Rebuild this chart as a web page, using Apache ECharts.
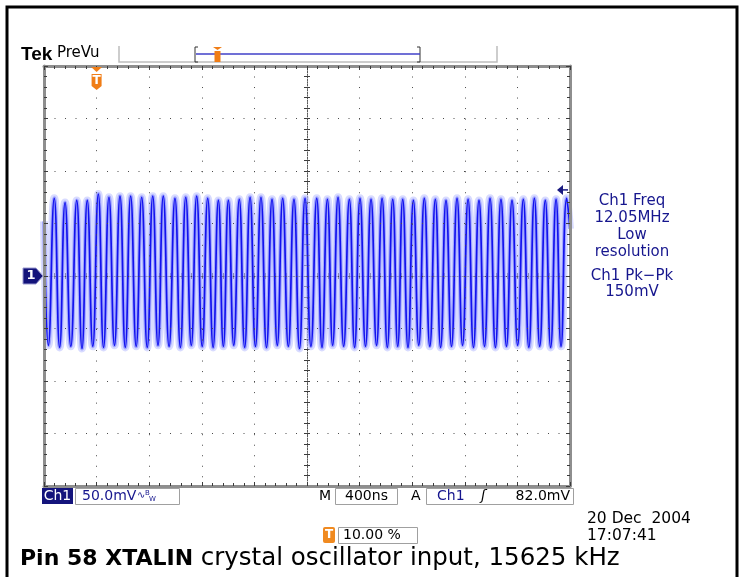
<!DOCTYPE html>
<html><head><meta charset="utf-8">
<script src="https://cdn.jsdelivr.net/npm/echarts@6/dist/echarts.min.js"></script>
<style>html,body{margin:0;padding:0;background:#fff}#c{width:742px;height:577px}</style>
</head><body><div id="c"></div><script>
// ---- Data (time in ns from left edge, voltage in mV) ----
const peakTimes = [78,160,249,329,413,494,578,659,743,827,907,996,1078,1161,1245,1326,
  1402,1485,1567,1650,1734,1815,1901,1985,2074,2155,2236,2322,2403,2487,2571,2652,
  2728,2809,2892,2976,3057,3141,3225,3308,3392,3475,3559,3645,3729,3812,3894,3975];
const peakValues = [74,70,72,72,78,75,76,76,75,76,76,74,75,76,74,72,
  72,73,75,75,73,74,73,74,74,73,75,73,74,73,74,73,
  73,72,74,73,72,74,73,72,74,73,72,73,74,72,73,74];
const troughTimes = [33,119,204,289,371,453,536,618,701,785,867,951,1037,1120,1203,1286,
  1364,1443,1526,1608,1692,1774,1858,1943,2030,2114,2195,2279,2362,2445,2529,2611,
  2690,2768,2850,2934,3016,3099,3183,3266,3350,3433,3517,3602,3687,3770,3853,3932];
const troughValues = [-66,-68,-67,-69,-67,-68,-66,-68,-67,-68,-66,-67,-68,-66,-67,-68,
  -67,-66,-68,-67,-68,-66,-67,-69,-67,-68,-66,-67,-68,-67,-66,-68,
  -67,-68,-66,-67,-68,-67,-66,-68,-67,-68,-67,-66,-68,-67,-68,-67];
const edgeTimes = [0, 4000];
const edgeValues = [52, 45];
const triggerTime = 400;      // 10.00 % of record
const triggerLevel = 82;      // mV
const timeRange = [0, 4000];  // 400 ns/div x 10
const voltRange = [-200, 200];// 50 mV/div x 8
const readoutLines = ['Ch1 Freq', '12.05MHz', 'Low', 'resolution', 'Ch1 Pk\u2212Pk', '150mV'];
const statusTexts = { ch: 'Ch1', scale: '50.0mV', time: '400ns', trig: '82.0mV', pos: '10.00 %',
  date: '20 Dec  2004', clock: '17:07:41' };
const captionBold = 'Pin 58 XTALIN';
const captionRest = ' crystal oscillator input, 15625 kHz';

// ---- build trace ----
const pts = [];
edgeTimes.forEach((t, i) => pts.push([t, edgeValues[i]]));
peakTimes.forEach((t, i) => pts.push([t, peakValues[i]]));
troughTimes.forEach((t, i) => pts.push([t, troughValues[i]]));
pts.sort((a, b) => a[0] - b[0]);

const FRAME = '#8e8e8e', TICK = '#3c3c3c', DOT = '#4a4a4a', NAVY = '#16168e';
const F = "'DejaVu Sans', sans-serif";

function borderX(pos, split) {
  return { type: 'value', position: pos, min: timeRange[0], max: timeRange[1], interval: 400, z: 10,
    axisLine: { show: true, onZero: false, lineStyle: { color: FRAME, width: 3 } },
    axisTick: { show: true, inside: true, length: 4, lineStyle: { color: TICK } },
    minorTick: { show: true, splitNumber: 5, length: 3, lineStyle: { color: TICK } },
    axisLabel: { show: false },
    splitLine: split ? { show: true, lineStyle: { color: DOT, width: 1, type: [1, 9.52] } } : { show: false } };
}
function borderY(pos, split) {
  return { type: 'value', position: pos, min: voltRange[0], max: voltRange[1], interval: 50, z: 10,
    axisLine: { show: true, onZero: false, lineStyle: { color: FRAME, width: 3 } },
    axisTick: { show: true, inside: true, length: 4, lineStyle: { color: TICK } },
    minorTick: { show: true, splitNumber: 5, length: 3, lineStyle: { color: TICK } },
    axisLabel: { show: false },
    splitLine: split ? { show: true, lineStyle: { color: DOT, width: 1, type: [1, 9.5] } } : { show: false } };
}
function centerX(pos) {
  return { type: 'value', position: pos, min: timeRange[0], max: timeRange[1], interval: 400,
    axisLine: { show: true, onZero: true, onZeroAxisIndex: 0, lineStyle: { color: '#555', width: 1, type: [1, 1.6] } },
    axisTick: { show: true, inside: true, length: 3, lineStyle: { color: TICK } },
    minorTick: { show: true, splitNumber: 5, length: 3, lineStyle: { color: TICK } },
    axisLabel: { show: false }, splitLine: { show: false } };
}
function centerY(pos) {
  return { type: 'value', position: pos, min: voltRange[0], max: voltRange[1], interval: 50,
    axisLine: { show: true, onZero: true, onZeroAxisIndex: 4, lineStyle: { color: '#555', width: 1, type: [1, 1.6] } },
    axisTick: { show: true, inside: true, length: 3, lineStyle: { color: TICK } },
    minorTick: { show: true, splitNumber: 5, length: 3, lineStyle: { color: TICK } },
    axisLabel: { show: false }, splitLine: { show: false } };
}
const helperX = { type: 'value', position: 'top', min: -2000, max: 2000,
  axisLine: { show: false, onZero: false }, axisTick: { show: false }, axisLabel: { show: false }, splitLine: { show: false } };

const traceBase = { type: 'line', xAxisIndex: 0, yAxisIndex: 0, data: pts, smooth: 0.5,
  showSymbol: false, symbol: 'none', silent: true, animation: false, z: 2 };

const chart = echarts.init(document.getElementById('c'), null, { renderer: 'canvas' });
chart.setOption({
  animation: false,
  backgroundColor: '#fff',
  grid: { left: 44, top: 66, width: 526, height: 420, containLabel: false },
  xAxis: [borderX('bottom', true), borderX('top', false), centerX('bottom'), centerX('top'), helperX],
  yAxis: [borderY('left', true), borderY('right', false), centerY('left'), centerY('right')],
  series: [
    Object.assign({}, traceBase, { lineStyle: { width: 8, color: 'rgba(190,195,255,0.6)' }, zlevel: 0 }),
    Object.assign({}, traceBase, { lineStyle: { width: 4, color: 'rgba(120,125,255,0.55)' } }),
    Object.assign({}, traceBase, { lineStyle: { width: 1.7, color: '#1212ee' } })
  ]
});

const trig = chart.convertToPixel({ xAxisIndex: 0, yAxisIndex: 0 }, [triggerTime, triggerLevel]);
const zero = chart.convertToPixel({ xAxisIndex: 0, yAxisIndex: 0 }, [timeRange[0], 0]);
const right = chart.convertToPixel({ xAxisIndex: 0, yAxisIndex: 0 }, [timeRange[1], 0]);
const gTop = chart.convertToPixel({ yAxisIndex: 0 }, voltRange[1]);

function txt(x, y, text, opt) {
  opt = opt || {};
  return { type: 'text', x: x, y: y, z: 100, silent: true,
    style: { text: text, fill: opt.fill || '#000', font: opt.font || ('14px ' + F),
      align: opt.align || 'left', textAlign: opt.align || 'left',
      verticalAlign: 'middle', textVerticalAlign: 'middle' } };
}
function tShield(cx, top, w, h) {
  return [
    { type: 'polygon', z: 100, silent: true, shape: { points: [[cx - w / 2, top], [cx + w / 2, top], [cx + w / 2, top + h - 4], [cx, top + h], [cx - w / 2, top + h - 4]] },
      style: { fill: '#f07d16' } },
    txt(cx, top + h / 2 - 1, 'T', { fill: '#fff', font: 'bold ' + (h - 4) + 'px ' + F, align: 'center' })
  ];
}

const g = [];
g.push({ type: 'rect', z: 100, silent: true, shape: { x: 7, y: 7, width: 730, height: 600 }, style: { fill: 'none', stroke: '#000', lineWidth: 3 } });
g.push(txt(21, 55, 'Tek', { font: 'bold 19px "Liberation Sans", sans-serif' }));
g.push(txt(57, 53, 'PreVu', { font: '15px ' + F }));
g.push({ type: 'polyline', z: 100, silent: true, shape: { points: [[119, 46], [119, 62], [497, 62], [497, 46]] }, style: { stroke: '#bdbdbd', lineWidth: 1.5, fill: 'none' } });
g.push({ type: 'polyline', z: 100, silent: true, shape: { points: [[198, 47], [195, 47], [195, 62], [198, 62]] }, style: { stroke: '#333', lineWidth: 1, fill: 'none' } });
g.push({ type: 'polyline', z: 100, silent: true, shape: { points: [[417, 47], [420, 47], [420, 62], [417, 62]] }, style: { stroke: '#333', lineWidth: 1, fill: 'none' } });
g.push({ type: 'line', z: 100, silent: true, shape: { x1: 196, y1: 54, x2: 420, y2: 54 }, style: { stroke: '#4040c8', lineWidth: 1.5 } });
g.push({ type: 'polygon', z: 101, silent: true, shape: { points: [[213, 47], [222, 47], [217.5, 50]] }, style: { fill: '#f07d16' } });
g.push({ type: 'rect', z: 101, silent: true, shape: { x: 214.5, y: 51, width: 6, height: 11 }, style: { fill: '#f07d16' } });
g.push(txt(217.5, 56, 'T', { fill: '#fff', font: 'bold 9px ' + F, align: 'center' }));
g.push({ type: 'polygon', z: 100, silent: true, shape: { points: [[trig[0] - 5.5, gTop + 1], [trig[0] + 5.5, gTop + 1], [trig[0], gTop + 6]] }, style: { fill: '#f07d16' } });
tShield(trig[0], gTop + 8, 10, 16).forEach(e => g.push(e));
g.push({ type: 'polygon', z: 100, silent: true, shape: { points: [[right[0] - 13, trig[1]], [right[0] - 7, trig[1] - 5], [right[0] - 7, trig[1] + 5]] }, style: { fill: '#1a1a80' } });
g.push({ type: 'line', z: 100, silent: true, shape: { x1: right[0] - 8, y1: trig[1], x2: right[0] - 2, y2: trig[1] }, style: { stroke: '#1a1a80', lineWidth: 1.5 } });
g.push({ type: 'polygon', z: 100, silent: true, shape: { points: [[23, zero[1] - 8], [36, zero[1] - 8], [43, zero[1]], [36, zero[1] + 8], [23, zero[1] + 8]] }, style: { fill: '#13137a', stroke: '#9a9ad0', lineWidth: 1 } });
g.push(txt(31, zero[1], '1', { fill: '#fff', font: 'bold 13px ' + F, align: 'center' }));
const readY = [201, 218, 235, 252, 276, 292.5];
readoutLines.forEach((s, i) => g.push(txt(632, readY[i], s, { fill: NAVY, font: '15px ' + F, align: 'center' })));
g.push({ type: 'rect', z: 100, silent: true, shape: { x: 42, y: 488, width: 31, height: 16 }, style: { fill: '#14147c' } });
g.push(txt(57.5, 496, statusTexts.ch, { fill: '#fff', font: '14px ' + F, align: 'center' }));
g.push({ type: 'rect', z: 100, silent: true, shape: { x: 75.5, y: 488.5, width: 104, height: 16 }, style: { fill: '#fff', stroke: '#a0a0a0', lineWidth: 1 } });
g.push(txt(82, 496.5, statusTexts.scale, { fill: NAVY, font: '14px ' + F }));
g.push(txt(137, 495, '\u223F', { fill: NAVY, font: '10px ' + F }));
g.push(txt(145, 493, 'B', { fill: NAVY, font: '7px ' + F }));
g.push(txt(149, 499, 'W', { fill: NAVY, font: '7px ' + F }));
g.push(txt(319, 496.5, 'M', { font: '14px ' + F }));
g.push({ type: 'rect', z: 100, silent: true, shape: { x: 335.5, y: 488.5, width: 62, height: 16 }, style: { fill: '#fff', stroke: '#a0a0a0', lineWidth: 1 } });
g.push(txt(366.5, 496.5, statusTexts.time, { font: '14px ' + F, align: 'center' }));
g.push(txt(411, 496.5, 'A', { font: '14px ' + F }));
g.push({ type: 'rect', z: 100, silent: true, shape: { x: 426.5, y: 488.5, width: 147, height: 16 }, style: { fill: '#fff', stroke: '#a0a0a0', lineWidth: 1 } });
g.push(txt(437, 496.5, statusTexts.ch, { fill: NAVY, font: '14px ' + F }));
g.push(txt(481, 496.5, '\u0283', { font: 'italic 14px ' + F }));
g.push(txt(570, 496.5, statusTexts.trig, { font: '14px ' + F, align: 'right' }));
g.push(txt(587, 519, statusTexts.date, { font: '15.5px ' + F }));
g.push(txt(587, 536, statusTexts.clock, { font: '15.5px ' + F }));
g.push({ type: 'rect', z: 100, silent: true, shape: { x: 323, y: 527, width: 12, height: 16, r: 2 }, style: { fill: '#f08a20' } });
g.push(txt(329, 535, 'T', { fill: '#fff', font: 'bold 12px ' + F, align: 'center' }));
g.push({ type: 'rect', z: 100, silent: true, shape: { x: 338.5, y: 527.5, width: 79, height: 16 }, style: { fill: '#fff', stroke: '#a0a0a0', lineWidth: 1 } });
g.push(txt(343, 535.5, statusTexts.pos, { font: '14px ' + F }));
g.push(txt(20, 559, captionBold, { font: 'bold 22px ' + F }));
g.push(txt(193, 559, captionRest, { font: '24.5px ' + F }));

chart.setOption({ graphic: { elements: g } });
</script></body></html>
